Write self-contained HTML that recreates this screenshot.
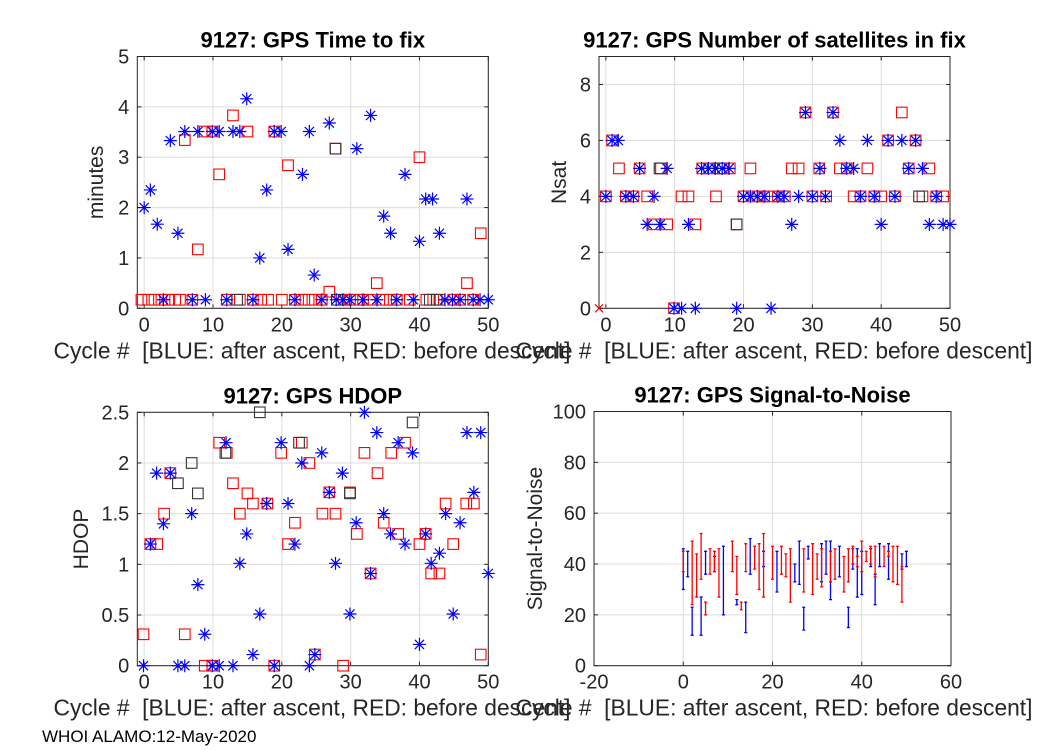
<!DOCTYPE html>
<html><head><meta charset="utf-8"><style>
body{margin:0;background:#fff;}
svg{display:block;font-family:"Liberation Sans",Arial,sans-serif;}
</style></head><body>
<svg id="fig" width="1050" height="750" viewBox="0 0 1050 750" xmlns="http://www.w3.org/2000/svg"></svg>
<script>
// ---- Data: Time to fix (minutes) ----
const ttfBlue = [[0,2.0],[0.9,2.35],[1.9,1.67],[3.8,3.33],[4.9,1.49],[5.9,3.51],[7.8,3.51],[9.9,3.51],[10.9,3.51],[12.9,3.51],[13.9,3.51],[14.9,4.16],[16.8,1.0],[17.8,2.35],[18.9,3.51],[19.9,3.51],[20.9,1.17],[23.0,2.66],[24.0,3.51],[24.7,0.66],[26.9,3.68],[30.9,3.17],[32.9,3.83],[34.8,1.83],[35.8,1.49],[37.9,2.66],[40.0,1.33],[40.9,2.17],[41.9,2.17],[42.9,1.49],[46.9,2.17],
[2.8,0.17],[7.0,0.17],[8.9,0.17],[12.0,0.17],[15.8,0.17],[21.9,0.17],[25.8,0.17],[27.9,0.17],[28.9,0.17],[29.9,0.17],[31.8,0.17],[33.8,0.17],[36.7,0.17],[39.1,0.17],[43.7,0.17],[44.8,0.17],[45.9,0.17],[47.8,0.17],[48.8,0.17],[50.0,0.17]];
const ttfRed = [[5.9,3.34],[12.9,3.83],[8.8,3.51],[9.9,3.51],[15.0,3.51],[18.9,3.51],[10.9,2.66],[7.8,1.17],[20.9,2.84],[27.8,3.17],[40.0,3.0],[48.9,1.49],[33.8,0.5],[46.9,0.5],[26.9,0.33],
[-0.4,0.17],[0.6,0.17],[1.5,0.17],[2.5,0.17],[3.5,0.17],[4.5,0.17],[5.2,0.17],[7.0,0.17],[12.0,0.17],[13.9,0.17],[15.8,0.17],[17.0,0.17],[18.0,0.17],[20.0,0.17],[21.9,0.17],[22.9,0.17],[23.9,0.17],[24.8,0.17],[25.8,0.17],[29.0,0.17],[29.9,0.17],[30.9,0.17],[31.8,0.17],[32.8,0.17],[34.7,0.17],[35.7,0.17],[36.7,0.17],[38.6,0.17],[41.0,0.17],[42.0,0.17],[42.9,0.17],[44.9,0.17],[45.9,0.17],[47.8,0.17]];
const ttfBlack = [[27.8,3.17],[13.5,0.17],[28,0.17],[41.5,0.17],[42.5,0.17]];
// ---- Data: Nsat ----
const nsatBlue = [[0,4],[0.9,6],[1.8,6],[2.9,4],[4,4],[4.9,5],[6,3],[7,4],[7.9,3],[8.9,5],[9.9,0],[11,0],[12,3],[13,0],[13.9,5],[14.9,5],[15.9,5],[16.9,5],[17.9,5],[19,0],[20,4],[21,4],[22,4],[23,4],[24,0],[25,4],[25.9,4],[27,3],[28,4],[29,7],[30,4],[31.1,5],[31.9,4],[33,7],[34,6],[35,5],[36,5],[37,4],[38,6],[39,4],[40,3],[41,6],[42,4],[43,6],[44,5],[45,6],[46,5],[47,3],[48,4],[49,3],[50,3]];
const nsatRed = [[0,4],[0.9,6],[1.9,5],[2.9,4],[4,4],[4.9,5],[6,4],[7,3],[8,5],[8.9,3],[9.9,0],[11,4],[12,4],[13,3],[14,5],[15,5],[16,4],[17,5],[18,5],[19,3],[20,4],[21,5],[22,4],[23,4],[24,4],[25,4],[26,4],[27,5],[28,5],[29,7],[30,4],[31,5],[32,4],[33,7],[34,5],[35,5],[36,4],[37,4],[38,5],[39,4],[40,4],[41,6],[42,4],[43,7],[44,5],[45,6],[46,4],[47,5],[48,4],[49,4]];
const nsatBlack = [[7.8,5],[16.5,5],[19,3],[45.5,4]];
const nsatX = [[-1,0]];
// ---- Data: HDOP ----
const hdopBlue = [[-0.1,0],[0.9,1.2],[1.8,1.9],[2.8,1.4],[3.8,1.9],[4.9,0],[5.9,0],[6.9,1.5],[7.8,0.8],[8.8,0.31],[9.9,0],[10.9,0],[11.9,2.2],[12.9,0],[13.9,1.01],[14.9,1.3],[15.8,0.11],[16.8,0.51],[17.8,1.6],[18.9,0],[19.9,2.2],[20.9,1.6],[21.9,1.2],[22.9,2.0],[24,0],[24.8,0.11],[25.8,2.1],[26.9,1.71],[27.8,1.01],[28.8,1.9],[29.9,0.51],[30.8,1.41],[32,2.5],[32.9,0.91],[33.8,2.3],[34.8,1.5],[35.8,1.3],[36.9,2.2],[37.9,1.2],[39,2.1],[40,0.21],[40.9,1.3],[41.7,1.01],[42.9,1.11],[43.8,1.5],[44.9,0.51],[45.9,1.41],[46.9,2.3],[47.9,1.71],[48.9,2.3],[50,0.91]];
const hdopRed = [[-0.1,0.31],[0.9,1.2],[1.9,1.2],[2.9,1.5],[3.8,1.9],[12,2.1],[5.9,0.31],[10.9,2.2],[8.8,0],[9.9,0],[12.9,1.8],[13.9,1.5],[15,1.7],[15.8,1.6],[17.9,1.6],[18.9,0],[19.9,2.1],[20.9,1.2],[21.9,1.41],[22.9,2.2],[24,2.0],[24.8,0.11],[25.9,1.5],[26.9,1.71],[27.8,1.5],[28.9,0],[29.9,1.71],[30.9,1.3],[32,2.1],[32.9,0.91],[33.9,1.9],[34.8,1.41],[35.9,2.1],[36.9,1.3],[37.9,2.2],[40,1.2],[40.9,1.3],[41.7,0.91],[42.9,0.91],[43.8,1.6],[44.9,1.2],[46.8,1.6],[47.9,1.6],[48.9,0.11]];
const hdopBlack = [[16.8,2.5],[6.9,2.0],[7.8,1.7],[4.9,1.8],[29.9,1.7],[39,2.4],[22.5,2.2],[11.8,2.1]];
// ---- Data: Signal-to-noise error bars [cycle, top, bottom] ----
const snrBlue = [[0,46,30],[1,45,35],[2,23,12],[4,27,12],[5,45,36],[7,43,37],[9,47,20],[12,26,24],[14,25,13],[15,50,36],[18,45,39],[21,45,29],[25,40,33],[26,49,32],[27,23,14],[28,47,42],[31,48,33],[32,49,36],[33,49,26],[35,47,35],[37,23,15],[38,46,38],[39,46,27],[40,45,28],[42,46,39],[43,36,24],[44,48,39],[46,48,34],[49,44,38],[50,45,39]];
const snrRed = [[0,45,37],[2,49,24],[3,44,27],[4,52,34],[5,25,20],[6,46,36],[7,45,37],[8,46,27],[11,49,37],[12,43,28],[13,25,22],[14,48,37],[16,47,38],[17,48,30],[18,52,27],[20,47,34],[22,47,36],[23,44,35],[24,46,25],[27,46,29],[29,48,28],[30,44,34],[31,46,31],[33,45,33],[34,46,34],[36,43,29],[37,46,33],[38,47,40],[39,43,39],[40,49,37],[41,45,41],[42,47,40],[43,47,35],[45,47,39],[46,45,43],[47,47,33],[48,47,32],[49,39,25]];

const NS='http://www.w3.org/2000/svg';
const svg=document.getElementById('fig');
function el(tag,attrs,parent){const e=document.createElementNS(NS,tag);for(const k in attrs)e.setAttribute(k,attrs[k]);(parent||svg).appendChild(e);return e;}

function makeAxes(cfg){
  const g=el('g',{});
  
  
  const sx=v=>cfg.l+(v-cfg.xmin)/(cfg.xmax-cfg.xmin)*(cfg.r-cfg.l);
  const sy=v=>cfg.b-(v-cfg.ymin)/(cfg.ymax-cfg.ymin)*(cfg.b-cfg.t);
  el('rect',{x:cfg.l,y:cfg.t,width:cfg.r-cfg.l,height:cfg.b-cfg.t,fill:'#fff'},g);
  cfg.xticks.forEach(v=>{
    el('line',{x1:sx(v),x2:sx(v),y1:cfg.t,y2:cfg.b,stroke:'#dcdcdc','stroke-width':1},g);
    el('line',{x1:sx(v),x2:sx(v),y1:cfg.b,y2:cfg.b-4,stroke:'#262626'},g);
    el('line',{x1:sx(v),x2:sx(v),y1:cfg.t,y2:cfg.t+4,stroke:'#262626'},g);
    const t=el('text',{x:sx(v),y:cfg.b+23,'text-anchor':'middle','font-size':20,fill:'#262626'},g);
    t.textContent=v;
    
    
  });
  cfg.yticks.forEach(v=>{
    el('line',{x1:cfg.l,x2:cfg.r,y1:sy(v),y2:sy(v),stroke:'#dcdcdc','stroke-width':1},g);
    el('line',{x1:cfg.l,x2:cfg.l+4,y1:sy(v),y2:sy(v),stroke:'#262626'},g);
    el('line',{x1:cfg.r,x2:cfg.r-4,y1:sy(v),y2:sy(v),stroke:'#262626'},g);
    const t=el('text',{x:cfg.l-8,y:sy(v)+7,'text-anchor':'end','font-size':20,fill:'#262626'},g);
    t.textContent=v;
    
    
  });
  el('rect',{x:cfg.l,y:cfg.t,width:cfg.r-cfg.l,height:cfg.b-cfg.t,fill:'none',stroke:'#262626','stroke-width':1},g);
  const ti=el('text',{x:(cfg.l+cfg.r)/2,y:cfg.t-9,'text-anchor':'middle','font-size':22,'font-weight':'bold',fill:'#000'},g);
  ti.textContent=cfg.title;
  
  
  const xl=el('text',{x:cfg.xlx,y:cfg.b+50,'text-anchor':'middle','font-size':22.8,fill:'#262626','xml:space':'preserve',style:'white-space:pre'},g);
  xl.textContent='Cycle #  [BLUE: after ascent, RED: before descent]';
  
  
  const yl=el('text',{x:0,y:0,'text-anchor':'middle','font-size':21,fill:'#262626',transform:`translate(${cfg.ylx},${(cfg.t+cfg.b)/2}) rotate(-90)`},g);
  yl.textContent=cfg.ylabel;
  
  
  const mg=el('g',{},g);
  return {sx,sy,g:mg};
}
function star(ax,pts,color){
  pts.forEach(p=>{
    const x=ax.sx(p[0]),y=ax.sy(p[1]),r=6.5,d=4.6;
    const s=el('path',{d:`M${x-r} ${y}H${x+r}M${x} ${y-r}V${y+r}M${x-d} ${y-d}L${x+d} ${y+d}M${x-d} ${y+d}L${x+d} ${y-d}`,stroke:color,'stroke-width':1.2,fill:'none'},ax.g);
    
    
  });
}
function square(ax,pts,color){
  pts.forEach(p=>{
    const x=ax.sx(p[0]),y=ax.sy(p[1]);
    const s=el('rect',{x:x-5.3,y:y-5.3,width:10.6,height:10.6,fill:'none',stroke:color,'stroke-width':1.1},ax.g);
    
    
  });
}
function errbars(ax,bars,color){
  bars.forEach(b=>{
    const x=ax.sx(b[0]),y1=ax.sy(b[1]),y2=ax.sy(b[2]);
    const s=el('path',{d:`M${x} ${y1}V${y2}M${x-1.5} ${y1}H${x+1.5}M${x-1.5} ${y2}H${x+1.5}`,stroke:color,'stroke-width':1.3,fill:'none'},ax.g);
    
    
  });
}

const a1=makeAxes({name:'time-to-fix-chart',l:137.3,r:488.3,t:56.5,b:308.3,xmin:-1,xmax:50,ymin:0,ymax:5,xticks:[0,10,20,30,40,50],yticks:[0,1,2,3,4,5],title:'9127: GPS Time to fix',ylabel:'minutes',ylx:103,xlx:312});
square(a1,ttfRed,'#ff0000');square(a1,ttfBlack,'#333');star(a1,ttfBlue,'#0000ff');

const a2=makeAxes({name:'nsat-chart',l:599,r:950,t:56.5,b:308.3,xmin:-1,xmax:50,ymin:0,ymax:9,xticks:[0,10,20,30,40,50],yticks:[0,2,4,6,8],title:'9127: GPS Number of satellites in fix',ylabel:'Nsat',ylx:566,xlx:774});
square(a2,nsatRed,'#ff0000');square(a2,nsatBlack,'#333');star(a2,nsatBlue,'#0000ff');
nsatX.forEach(p=>{const x=a2.sx(p[0]),y=a2.sy(p[1]);const s=el('path',{d:`M${x-4} ${y-4}L${x+4} ${y+4}M${x-4} ${y+4}L${x+4} ${y-4}`,stroke:'#ff0000','stroke-width':1.2},a2.g);});

const a3=makeAxes({name:'hdop-chart',l:137.3,r:488.3,t:412.3,b:665.7,xmin:-1,xmax:50,ymin:0,ymax:2.5,xticks:[0,10,20,30,40,50],yticks:[0,0.5,1,1.5,2,2.5],title:'9127: GPS HDOP',ylabel:'HDOP',ylx:88,xlx:312});
square(a3,hdopRed,'#ff0000');square(a3,hdopBlack,'#333');star(a3,hdopBlue,'#0000ff');

const a4=makeAxes({name:'snr-chart',l:594,r:951,t:411.5,b:665.7,xmin:-20,xmax:60,ymin:0,ymax:100,xticks:[-20,0,20,40,60],yticks:[0,20,40,60,80,100],title:'9127: GPS Signal-to-Noise',ylabel:'Signal-to-Noise',ylx:542,xlx:774});
errbars(a4,snrBlue,'#0000ff');errbars(a4,snrRed,'#ff0000');

const ft=el('text',{x:42,y:742,'font-size':17,fill:'#000'});
ft.textContent='WHOI ALAMO:12-May-2020';


</script>
</body></html>
